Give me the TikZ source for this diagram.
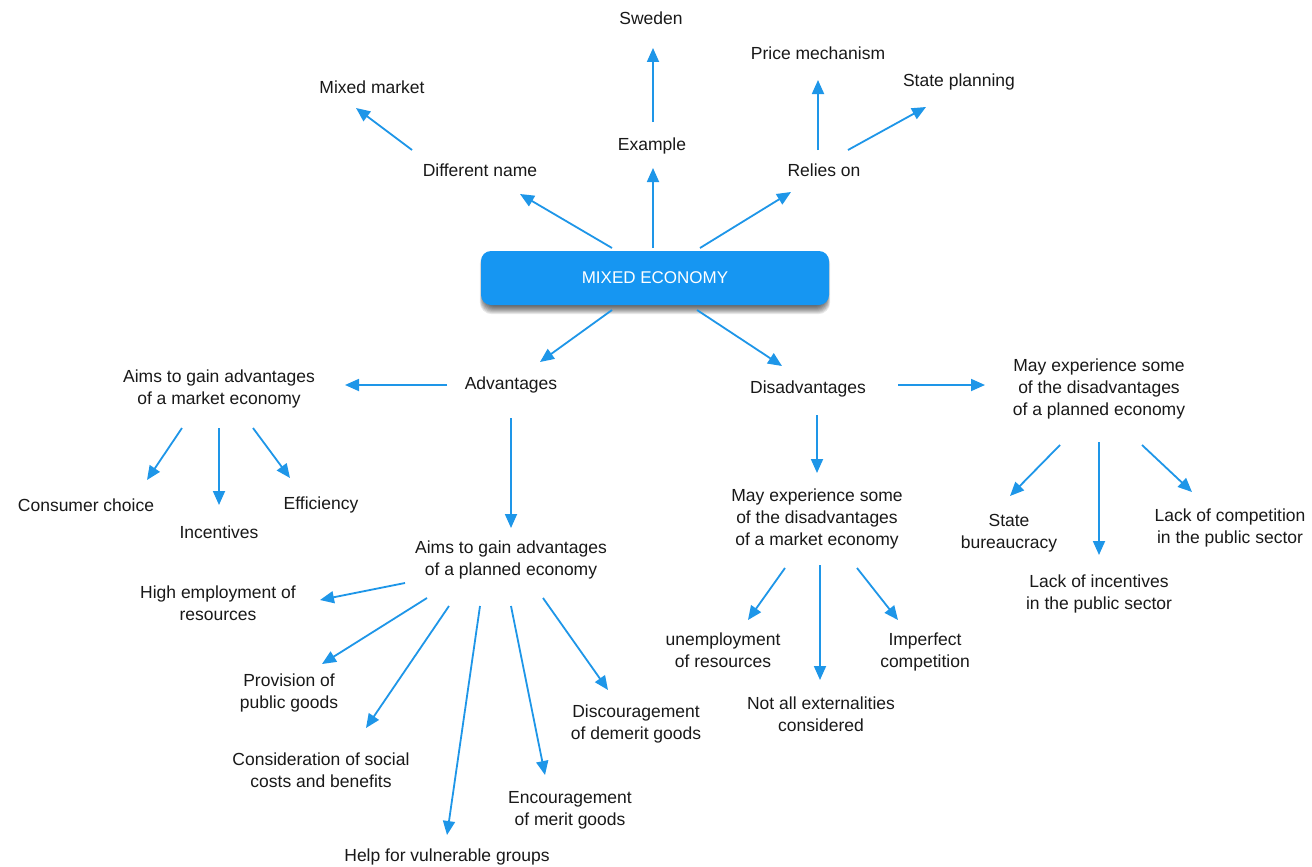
\documentclass[tikz,border=0pt]{standalone}
\usepackage{fontspec}
\setmainfont{Liberation Sans}
\usetikzlibrary{arrows.meta,calc,backgrounds}
\definecolor{mblue}{RGB}{22,150,242}
\definecolor{lblue}{RGB}{30,150,232}
\definecolor{txt}{RGB}{25,25,25}
\begin{document}
\begin{tikzpicture}[x=1pt,y=-1pt,
  lbl/.style={text=txt,align=center,font=\fontsize{17.5}{22}\selectfont,inner sep=0pt},
  arr/.style={draw=lblue,line width=1.8pt,-{Triangle[length=14pt,width=12pt]}},
  mainbox/.style={fill=mblue,rounded corners=10pt,minimum width=348pt,minimum height=54pt,
    text=white,font=\fontsize{17}{20}\selectfont}]
\useasboundingbox (0,0) rectangle (1312,867);
% nodes
\node[mainbox] (me) at (655,278) {MIXED ECONOMY};
\begin{scope}[on background layer]
\fill[white] (0,0) rectangle (1312,867);
\foreach \i in {0,1,...,8}{
  \fill[black,opacity=0.09,rounded corners=12pt]
    ($(me.north west)+(-\i/2+3,5-\i/2)$) rectangle ($(me.south east)+(\i/2-3,\i+1)$);
}
\end{scope}
\node[lbl] (sweden) at (651,18) {Sweden};
\node[lbl] (example) at (652,146) {Example};
\node[lbl] (dname) at (480,170) {Different name};
\node[lbl] (mmarket) at (372,87) {Mixed market};
\node[lbl] (relies) at (824,170) {Relies on};
\node[lbl] (price) at (818,53) {Price mechanism};
\node[lbl] (stateplan) at (959,82) {State planning};
\node[lbl] (adv) at (511,385) {Advantages};
\node[lbl] (dis) at (808,389) {Disadvantages};
\node[lbl] (aimsM) at (219,389) {Aims to gain advantages\\of a market economy};
\node[lbl] (cons) at (86,505) {Consumer choice};
\node[lbl] (incent) at (219,532) {Incentives};
\node[lbl] (effic) at (321,505) {Efficiency};
\node[lbl] (aimsP) at (511,560) {Aims to gain advantages\\of a planned economy};
\node[lbl] (highemp) at (218,603) {High employment of\\resources};
\node[lbl] (prov) at (289,693) {Provision of\\public goods};
\node[lbl] (consid) at (321,770) {Consideration of social\\costs and benefits};
\node[lbl] (help) at (447,857) {Help for vulnerable groups};
\node[lbl] (encour) at (570,810) {Encouragement\\of merit goods};
\node[lbl] (discour) at (636,724) {Discouragement\\of demerit goods};
\node[lbl] (mayP) at (1099,389) {May experience some\\of the disadvantages\\of a planned economy};
\node[lbl] (mayM) at (817,519) {May experience some\\of the disadvantages\\of a market economy};
\node[lbl] (unemp) at (723,650) {unemployment\\of resources};
\node[lbl] (notall) at (821,714) {Not all externalities\\considered};
\node[lbl] (imperf) at (925,652) {Imperfect\\competition};
\node[lbl] (statebur) at (1009,533) {State\\bureaucracy};
\node[lbl] (lackinc) at (1099,594) {Lack of incentives\\in the public sector};
\node[lbl] (lackcomp) at (1230,528) {Lack of competition\\in the public sector};
% connectors
\draw[arr] ($(me)+(-43,-30)$) -- ($(dname)+(40,24)$);
\draw[arr] ($(me)+(-2,-30)$) -- ($(example)+(1,22)$);
\draw[arr] ($(me)+(45,-30)$) -- ($(relies)+(-33,22)$);
\draw[arr] ($(dname)+(-68,-20)$) -- ($(mmarket)+(-16,21)$);
\draw[arr] ($(example)+(1,-24)$) -- ($(sweden)+(2,30)$);
\draw[arr] ($(relies)+(-6,-20)$) -- ($(price)+(0,27)$);
\draw[arr] ($(relies)+(24,-20)$) -- ($(stateplan)+(-33,25)$);
\draw[arr] ($(me)+(-43,32)$) -- ($(adv)+(29,-23)$);
\draw[arr] ($(me)+(42,32)$) -- ($(dis)+(-26,-23)$);
\draw[arr] ($(adv)+(-64,0)$) -- ($(aimsM)+(126,-4)$);
\draw[arr] ($(adv)+(0,33)$) -- ($(aimsP)+(0,-32)$);
\draw[arr] ($(aimsM)+(-37,39)$) -- ($(cons)+(61,-25)$);
\draw[arr] ($(aimsM)+(0,39)$) -- ($(incent)+(0,-27)$);
\draw[arr] ($(aimsM)+(34,39)$) -- ($(effic)+(-31,-27)$);
\draw[arr] ($(aimsP)+(-106,23)$) -- ($(highemp)+(102,-3)$);
\draw[arr] ($(aimsP)+(-84,38)$) -- ($(prov)+(33,-29)$);
\draw[arr] ($(aimsP)+(-62,46)$) -- ($(consid)+(45,-42)$);
\draw[arr] ($(aimsP)+(-31,46)$) -- ($(help)+(0,-22)$);
\draw[arr] ($(aimsP)+(0,46)$) -- ($(encour)+(-25,-35)$);
\draw[arr] ($(aimsP)+(32,38)$) -- ($(discour)+(-28,-34)$);
\draw[arr] ($(dis)+(90,-4)$) -- ($(mayP)+(-114,-4)$);
\draw[arr] ($(dis)+(9,26)$) -- ($(mayM)+(0,-46)$);
\draw[arr] ($(mayM)+(-32,49)$) -- ($(unemp)+(25,-30)$);
\draw[arr] ($(mayM)+(3,46)$) -- ($(notall)+(-1,-34)$);
\draw[arr] ($(mayM)+(40,49)$) -- ($(imperf)+(-27,-32)$);
\draw[arr] ($(mayP)+(-39,56)$) -- ($(statebur)+(1,-37)$);
\draw[arr] ($(mayP)+(0,53)$) -- ($(lackinc)+(0,-39)$);
\draw[arr] ($(mayP)+(43,56)$) -- ($(lackcomp)+(-38,-36)$);
\end{tikzpicture}
\end{document}
